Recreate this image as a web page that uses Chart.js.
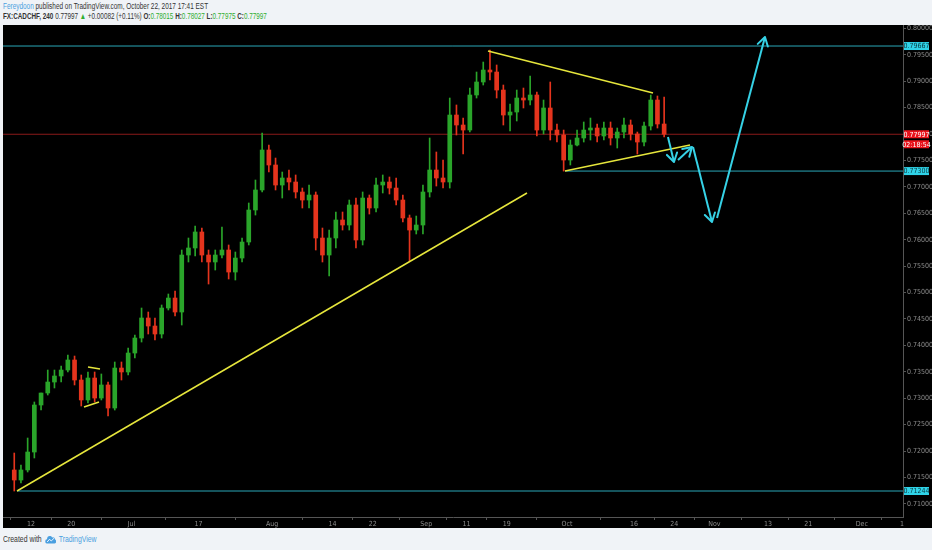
<!DOCTYPE html>
<html>
<head>
<meta charset="utf-8">
<script src="https://cdn.jsdelivr.net/npm/chart.js@4.4.0/dist/chart.umd.min.js"></script>
<style>
  html, body { margin: 0; padding: 0; width: 932px; height: 550px; overflow: hidden; background: #f0f3f7;
    font-family: "Liberation Sans", "DejaVu Sans", sans-serif; }
  .txt { position: absolute; left: 3px; color: #333; white-space: nowrap; transform-origin: 0 50%; }
  #hdr1 { top: 1px; font-size: 8.5px; }
  #hdr2 { top: 11px; font-size: 8.5px; }
  .blue { color: #4a9fe0; }
  .g { color: #2fae2f; }
  #wrap { position: absolute; left: 3px; top: 25px; width: 929px; height: 503px; background: #000; }
  #footer { top: 534px; font-size: 8.5px; }
  #footer svg { vertical-align: middle; margin: 0 3px 0 4px; }
</style>
</head>
<body>
<div id="hdr1" class="txt"><span class="blue">Fereydoon</span> published on TradingView.com, October 22, 2017 17:41 EST</div>
<div id="hdr2" class="txt"><b>FX:CADCHF, 240</b> 0.77997 <span class="g">&#9650;</span> +0.00082 (+0.11%) <b>O:</b><span class="g">0.78015</span> <b>H:</b><span class="g">0.78027</span> <b>L:</b><span class="g">0.77975</span> <b>C:</b><span class="g">0.77997</span></div>
<div id="wrap"><canvas id="chart"></canvas></div>
<div id="footer" class="txt">Created with<svg width="14" height="9" viewBox="0 0 14 9"><path d="M2 8.5 Q0 8.5 0 6.3 Q0 4.2 2.3 4.2 Q2.6 1 5.6 1 Q7.6 0.6 8.6 2.4 Q11.6 1.8 12.4 4.6 Q14 5.4 13.4 7.4 Q12.8 8.5 11.4 8.5 Z" fill="#4a9fe0"/><polyline points="2.5,7 5.5,4.2 7.5,6 11,3.2" stroke="#fff" fill="none" stroke-width="1"/></svg><span class="blue">TradingView</span></div>

<script>
// Daily candles, trading-day index from Jun 12 2017 (= day 0)
const firstDay = -3;
const open = [0.71642, 0.71452, 0.71642, 0.71982, 0.72872, 0.73099, 0.73307, 0.73421, 0.73534, 0.73724,
  0.73345, 0.72967, 0.73383, 0.73004, 0.73251, 0.72815, 0.73572, 0.73497, 0.73856, 0.74140,
  0.74519, 0.74367, 0.74216, 0.74708, 0.74897, 0.74632, 0.75711, 0.75844, 0.76147, 0.75711,
  0.75579, 0.75711, 0.75806, 0.75389, 0.75654, 0.75957, 0.76563, 0.76942, 0.77699, 0.77415,
  0.77036, 0.77169, 0.77093, 0.76904, 0.76752, 0.76847, 0.76033, 0.75711, 0.76033, 0.76374,
  0.76279, 0.76658, 0.75995, 0.76790, 0.76601, 0.77036, 0.77093, 0.76979, 0.76752, 0.76412,
  0.76184, 0.76279, 0.76904, 0.77320, 0.77169, 0.77093, 0.78361, 0.78172, 0.78077, 0.78740,
  0.78986, 0.79213, 0.79175, 0.78834, 0.78361, 0.78418, 0.78683, 0.78645, 0.78740, 0.78077,
  0.78494, 0.78077, 0.77983, 0.77509, 0.77793, 0.77926, 0.78077, 0.78115, 0.77964, 0.78115,
  0.77926, 0.78039, 0.78172, 0.78002, 0.77850, 0.78153, 0.78645, 0.78191];
const high = [0.71963, 0.71736, 0.72247, 0.72929, 0.73099, 0.73534, 0.73534, 0.73610, 0.73818, 0.73799,
  0.73440, 0.73497, 0.73497, 0.73459, 0.73307, 0.73686, 0.73686, 0.73951, 0.74197, 0.74708,
  0.74632, 0.74519, 0.74765, 0.74973, 0.75030, 0.75806, 0.76033, 0.76260, 0.76222, 0.75806,
  0.75806, 0.76241, 0.75901, 0.75768, 0.76033, 0.76696, 0.77131, 0.78021, 0.77793, 0.77547,
  0.77282, 0.77320, 0.77226, 0.76979, 0.77036, 0.76904, 0.76222, 0.76184, 0.76525, 0.76525,
  0.76752, 0.76790, 0.76904, 0.76847, 0.77169, 0.77226, 0.77188, 0.77169, 0.76847, 0.76468,
  0.76449, 0.77036, 0.77926, 0.77661, 0.77509, 0.78683, 0.78551, 0.78304, 0.78872, 0.79175,
  0.79364, 0.79592, 0.79308, 0.78929, 0.78569, 0.78834, 0.78872, 0.79099, 0.78797, 0.78645,
  0.78986, 0.78191, 0.78077, 0.77888, 0.78077, 0.78229, 0.78304, 0.78191, 0.78229, 0.78229,
  0.78115, 0.78304, 0.78267, 0.78039, 0.78229, 0.78740, 0.78721, 0.78702];
const low = [0.71244, 0.71396, 0.71604, 0.71869, 0.72777, 0.73061, 0.73194, 0.73307, 0.73497, 0.73251,
  0.72853, 0.72910, 0.72929, 0.72967, 0.72664, 0.72777, 0.73345, 0.73440, 0.73762, 0.74064,
  0.74216, 0.74102, 0.74140, 0.74670, 0.74557, 0.74386, 0.75579, 0.75692, 0.75579, 0.75162,
  0.75427, 0.75654, 0.75257, 0.75238, 0.75579, 0.75901, 0.76468, 0.76904, 0.77282, 0.76942,
  0.76790, 0.76942, 0.76790, 0.76601, 0.76601, 0.75806, 0.75579, 0.75314, 0.75844, 0.76184,
  0.76184, 0.75844, 0.75901, 0.76487, 0.76525, 0.76885, 0.76866, 0.76658, 0.76336, 0.75598,
  0.76109, 0.76109, 0.76809, 0.77017, 0.76979, 0.76979, 0.77983, 0.77623, 0.78039, 0.78683,
  0.78929, 0.79024, 0.78683, 0.78172, 0.78058, 0.78248, 0.78494, 0.78551, 0.77964, 0.78002,
  0.77888, 0.77850, 0.77300, 0.77415, 0.77774, 0.77850, 0.77888, 0.77850, 0.77888, 0.77793,
  0.77737, 0.77926, 0.77888, 0.77623, 0.77774, 0.78077, 0.78115, 0.77945];
const close = [0.71452, 0.71642, 0.71982, 0.72872, 0.73099, 0.73307, 0.73421, 0.73534, 0.73724, 0.73345,
  0.72967, 0.73383, 0.73004, 0.73251, 0.72815, 0.73572, 0.73497, 0.73856, 0.74140, 0.74519,
  0.74367, 0.74216, 0.74708, 0.74897, 0.74632, 0.75711, 0.75844, 0.76147, 0.75711, 0.75579,
  0.75711, 0.75806, 0.75389, 0.75654, 0.75957, 0.76563, 0.76942, 0.77699, 0.77415, 0.77036,
  0.77169, 0.77093, 0.76904, 0.76752, 0.76847, 0.76033, 0.75711, 0.76033, 0.76374, 0.76279,
  0.76658, 0.75995, 0.76790, 0.76601, 0.77036, 0.77093, 0.76979, 0.76752, 0.76412, 0.76184,
  0.76279, 0.76904, 0.77320, 0.77169, 0.77093, 0.78361, 0.78172, 0.78077, 0.78740, 0.78986,
  0.79213, 0.79175, 0.78834, 0.78361, 0.78418, 0.78683, 0.78645, 0.78740, 0.78077, 0.78494,
  0.78077, 0.77983, 0.77509, 0.77793, 0.77926, 0.78077, 0.78115, 0.77964, 0.78115, 0.77926,
  0.78039, 0.78172, 0.78002, 0.77850, 0.78153, 0.78645, 0.78191, 0.77997];

// x axis labels (trading-day index) and price axis ticks
const tickDays = [0, 6, 15, 25, 36, 45, 51, 59, 65, 71, 80, 90, 96, 102, 110, 116, 124, 130];
const tickLabels = ['12', '20', 'Jul', '17', 'Aug', '14', '22', 'Sep', '11', '19', 'Oct', '16', '24', 'Nov', '13', '21', 'Dec', '1'];
const priceTicks = [0.71, 0.715, 0.72, 0.725, 0.73, 0.735, 0.74, 0.745, 0.75, 0.755, 0.76, 0.765,
  0.77, 0.775, 0.78, 0.785, 0.79, 0.795, 0.80];

// drawings: [day, price]
const trendUp = [[-2.09, 0.71244], [74.03, 0.76885]];
const triTop = [[68.21, 0.79573], [92.84, 0.78778]];
const triBottom = [[79.70, 0.77300], [98.36, 0.77793]];
const boxTop = [[8.51, 0.73591], [10.30, 0.73553]];
const boxBottom = [[7.91, 0.72834], [10.15, 0.72929]];
const arrows = [
  [[95.07, 0.77945], [95.97, 0.77472]],
  [[96.57, 0.77509], [98.66, 0.77755]],
  [[98.81, 0.77755], [101.64, 0.76336]],
  [[102.39, 0.76412], [109.55, 0.79838]]
];
const levelPrices = [0.79667, 0.77300, 0.71244];
const levelStarts = [-4.2, 79.70, -2.09];
const lastPrice = 0.77997;
const countdown = '02:18:54';

const xMin = -4.18, xMax = 130.15;
const yMin = 0.70752, yMax = 0.80065;

const upColor = '#2aa52a';
const downColor = '#e5341d';
const axisFont = '"Liberation Sans Narrow", "DejaVu Sans Condensed", sans-serif';

// squeeze the header / footer lines to the widths of the original
function fitWidth(id, target) {
  const el = document.getElementById(id);
  el.style.transform = 'scaleX(' + (target / el.scrollWidth) + ')';
}
fitWidth('hdr1', 205);
fitWidth('hdr2', 264);
fitWidth('footer', 94);

const candleX = open.map((v, i) => firstDay + i + 0.5);
const candleColors = close.map((c, i) => c >= open[i] ? upColor : downColor);

function seg(pts, color, width, order) {
  return {
    type: 'line',
    data: pts.map(p => ({ x: p[0], y: p[1] })),
    borderColor: color,
    borderWidth: width,
    pointRadius: 0,
    fill: false,
    tension: 0,
    order: order
  };
}

const datasets = [];
datasets.push(seg([[xMin, lastPrice], [xMax, lastPrice]], '#8a1a1a', 1, 10));
levelPrices.forEach((p, i) => {
  datasets.push(seg([[levelStarts[i], p], [xMax, p]], '#2aa7b8', 1, 9));
});
datasets.push({
  type: 'bar',
  data: candleX.map((x, i) => ({ x: x, y: [low[i], high[i]] })),
  backgroundColor: candleColors,
  barThickness: 1,
  grouped: false,
  order: 6
});
datasets.push({
  type: 'bar',
  data: candleX.map((x, i) => ({ x: x, y: [open[i], close[i]] })),
  backgroundColor: candleColors,
  barThickness: 4,
  grouped: false,
  order: 5
});
[trendUp, triTop, triBottom, boxTop, boxBottom].forEach(l => {
  datasets.push(seg(l, '#e6e63c', 1.5, 2));
});
arrows.forEach(a => datasets.push(seg(a, '#36d2e6', 2, 1)));

const overlay = {
  id: 'overlay',
  afterDatasetsDraw(chart) {
    const ctx = chart.ctx;
    const xs = chart.scales.x, ys = chart.scales.y;
    ctx.save();
    ctx.strokeStyle = '#36d2e6';
    ctx.lineWidth = 2;
    ctx.lineCap = 'round';
    arrows.forEach(a => {
      const x0 = xs.getPixelForValue(a[0][0]), y0 = ys.getPixelForValue(a[0][1]);
      const x1 = xs.getPixelForValue(a[1][0]), y1 = ys.getPixelForValue(a[1][1]);
      const ang = Math.atan2(y1 - y0, x1 - x0);
      ctx.beginPath();
      [-0.55, 0.55].forEach(d => {
        ctx.moveTo(x1, y1);
        ctx.lineTo(x1 - 10 * Math.cos(ang + d), y1 - 10 * Math.sin(ang + d));
      });
      ctx.stroke();
    });
    ctx.restore();
  },
  afterDraw(chart) {
    const ctx = chart.ctx;
    const ys = chart.scales.y;
    const left = ys.left + 1;
    ctx.save();
    ctx.font = '7px ' + axisFont;
    ctx.textBaseline = 'middle';
    ctx.textAlign = 'center';
    function tag(y, bg, fg, text) {
      ctx.fillStyle = bg;
      ctx.fillRect(left, y - 4, 25, 8);
      ctx.fillStyle = fg;
      ctx.fillText(text, left + 12.5, y + 0.5);
    }
    levelPrices.forEach(p => tag(ys.getPixelForValue(p), '#2fd3e8', '#0a3a40', p.toFixed(5)));
    const ly = ys.getPixelForValue(lastPrice);
    tag(ly, '#e8121a', '#fff', lastPrice.toFixed(5));
    tag(ly + 10, '#e8121a', '#fff', countdown);
    ctx.restore();
  }
};

new Chart(document.getElementById('chart'), {
  type: 'bar',
  data: { datasets: datasets },
  options: {
    responsive: true,
    maintainAspectRatio: false,
    animation: false,
    events: [],
    layout: { padding: 0 },
    plugins: { legend: { display: false }, tooltip: { enabled: false } },
    scales: {
      x: {
        type: 'linear',
        min: xMin,
        max: xMax,
        offset: false,
        grid: { drawOnChartArea: false, tickLength: 3, color: '#555' },
        border: { color: '#555' },
        ticks: {
          color: '#8c8c8c',
          font: { size: 7, family: axisFont },
          padding: 0,
          autoSkip: false,
          maxRotation: 0,
          callback: v => {
            const i = tickDays.indexOf(v);
            return i >= 0 ? tickLabels[i] : '';
          }
        },
        afterBuildTicks: s => { s.ticks = tickDays.map(v => ({ value: v })); },
        afterFit: s => { s.height = 11; s.paddingLeft = 0; s.paddingRight = 0; }
      },
      y: {
        type: 'linear',
        position: 'right',
        min: yMin,
        max: yMax,
        grid: { drawOnChartArea: false, tickLength: 3, color: '#555' },
        border: { color: '#555' },
        ticks: {
          color: '#8c8c8c',
          font: { size: 7, family: axisFont },
          padding: 1,
          callback: v => v.toFixed(5)
        },
        afterBuildTicks: s => { s.ticks = priceTicks.map(v => ({ value: v })); },
        afterFit: s => { s.width = 29; s.paddingTop = 0; s.paddingBottom = 0; }
      }
    }
  },
  plugins: [overlay]
});
</script>
</body>
</html>
